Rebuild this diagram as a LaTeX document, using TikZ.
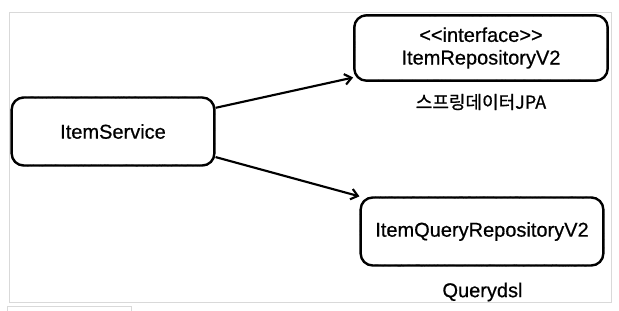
\documentclass[tikz,border=0pt]{standalone}
\usepackage{fontspec}
\setmainfont{Liberation Sans}[FakeBold=0.6]
\newfontfamily\kofont{Noto Sans CJK KR}[FakeBold=0.8]
\usetikzlibrary{arrows.meta,decorations.pathmorphing}

\tikzset{
  sketchbox/.style={draw, line width=1.8pt, rounded corners=9pt, align=center,
    font=\fontsize{15}{17}\selectfont,
    postaction={draw, sharp corners, line width=0.6pt, decorate,
      decoration={random steps, segment length=1pt, amplitude=0.35pt}}},
  link/.style={line width=1.6pt, -{Straight Barb[length=5pt,width=8pt]}},
  frameline/.style={draw=black!15, line width=0.75pt},
}

\begin{document}
\begin{tikzpicture}[x=0.75pt,y=0.75pt,yscale=-1,xscale=1]
			\useasboundingbox (0,0) rectangle (619,311);
			
			%Shape: Rectangle [id:frame] 
			\draw [frameline] (9,12) rectangle (611,302);
			%Shape: Rectangle [id:tab] 
			\draw [frameline] (7,312) -- (7,306) -- (131,306) -- (131,312);
			
			%Shape: Rounded Rect [id:itemService] 
			\node [sketchbox, minimum width=152pt, minimum height=51pt] (itemService) at (113,131.5) {ItemService};
			%Shape: Rounded Rect [id:itemRepo] 
			\node [sketchbox, minimum width=190pt, minimum height=49pt] (itemRepo) at (481,48) {<\kern0pt<interface>\kern0pt>\\ItemRepositoryV2};
			%Shape: Rounded Rect [id:queryRepo] 
			\node [sketchbox, minimum width=182pt, minimum height=51pt] (queryRepo) at (482,231.5) {ItemQueryRepositoryV2};
			
			% Text Node
			\node [font=\kofont\fontsize{13.5}{15}\selectfont] (springData) at (481,102) {스프링데이터JPA};
			% Text Node
			\node [font=\fontsize{15}{17}\selectfont] (querydsl) at (482.5,292) {Querydsl};
			
			%Straight Lines [id:toItemRepo] 
			\draw [link] (itemService.13) -- (itemRepo.193);
			%Straight Lines [id:toQueryRepo] 
			\draw [link] (itemService.-14) -- (queryRepo.164);
		\end{tikzpicture}
\end{document}
